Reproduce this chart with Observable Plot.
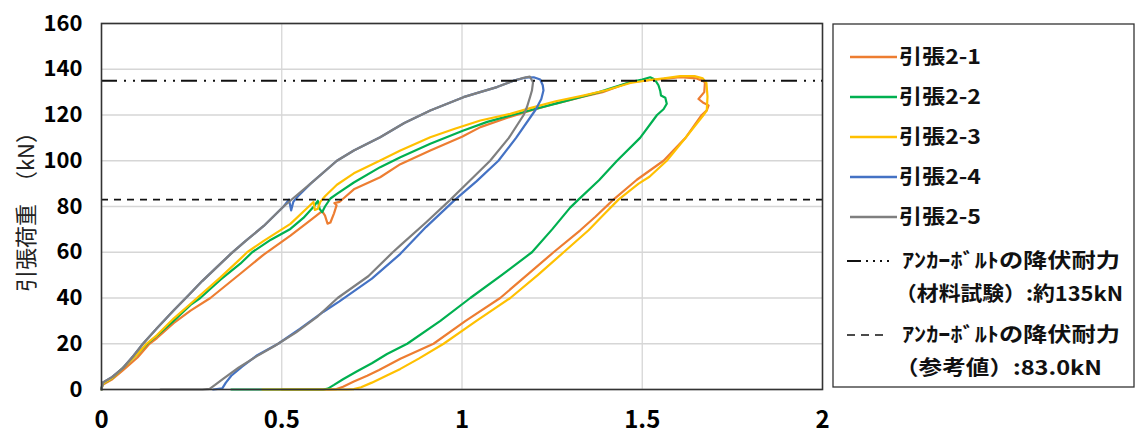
<!DOCTYPE html>
<html>
<head>
<meta charset="utf-8">
<script src="https://cdn.jsdelivr.net/npm/d3@7"></script>
<script src="https://cdn.jsdelivr.net/npm/@observablehq/plot@0.6"></script>
<style>
  html, body { margin: 0; padding: 0; background: #fff; }
  #chart { width: 1137px; height: 434px; }
</style>
</head>
<body>
<div id="chart"></div>
<script>
// ---- data ----
const seriesNames  = ["引張2-1", "引張2-2", "引張2-3", "引張2-4", "引張2-5"];
const seriesColors = ["#ED7D31", "#00B050", "#FFC000", "#4472C4", "#7F7F7F"];

const xTicks = [0, 0.5, 1, 1.5, 2];
const yTicks = [0, 20, 40, 60, 80, 100, 120, 140, 160];
const gridXTicks = [0.5, 1, 1.5];

const yieldValues = [135, 83];
const yieldLabels1 = ["ｱﾝｶｰﾎﾞﾙﾄの降伏耐力", "（材料試験）:約135kN"];
const yieldLabels2 = ["ｱﾝｶｰﾎﾞﾙﾄの降伏耐力", "（参考値）:83.0kN"];
const yLabel = "引張荷重　（kN）";

// 引張2-1 (orange)
const s1x = [0,0.003,0.03,0.06,0.1,0.133,0.154,0.2,0.247,0.302,0.385,0.45,0.524,0.58,0.612,0.62,0.627,0.635,0.645,0.652,0.646,0.66,0.671,0.7,0.773,0.829,0.912,1.0,1.051,1.12,1.189,1.26,1.336,1.39,1.467,1.52,1.559,1.605,1.651,1.674,1.672,1.656,1.668,1.684,1.679,
  1.665,1.62,1.559,1.485,1.42,1.37,1.328,1.254,1.18,1.106,1.01,0.921,0.829,0.77,0.737,0.7,0.67,0.652,0.63,0.5];
const s1y = [0,2,4.5,8.5,14,20,22.5,29,34.5,40,50.6,59,67.3,74,78,76,72.5,73,77,80.5,81.5,82,83.5,87.5,92.8,98.5,104.5,110.5,114.7,118.5,121.9,125,128,130,134.4,135.2,135.8,136.5,136,134.4,130,127,125.5,124.2,122,
  120,110,100,91.7,83,75.5,69.6,60,50,40,30,20,13.4,8.5,6,3.5,1.2,0.2,0,0];

// 引張2-2 (green)
const s2x = [0,0.003,0.03,0.06,0.1,0.127,0.154,0.2,0.247,0.274,0.33,0.385,0.418,0.47,0.524,0.56,0.589,0.6,0.605,0.612,0.62,0.635,0.653,0.7,0.773,0.829,0.912,1.004,1.07,1.14,1.2,1.26,1.32,1.38,1.43,1.47,1.5,1.522,1.535,1.545,1.55,1.552,1.564,1.568,1.559,1.541,
  1.494,1.43,1.38,1.323,1.3,1.25,1.194,1.11,1.023,0.94,0.848,0.792,0.75,0.709,0.67,0.645,0.628,0.615,0.36];
const s2y = [0,2.5,5,9.5,15.5,20,23.5,30,37,40,48,55,60,65.5,70.2,75,80,82.5,79,77.5,80,83.5,85.5,90.5,97.2,101.5,107.4,113.2,117,120,122.5,125,127.5,130,132.5,134.5,135.5,136.5,135.5,133,130.5,128.5,127.5,124.9,122.5,120,
  110,100,91.5,83,79.5,70,60,50,40,30,20,15.5,11.5,8,4.5,2,0.4,0,0];

// 引張2-3 (yellow)
const s3x = [0,0.003,0.03,0.061,0.1,0.125,0.154,0.2,0.247,0.265,0.33,0.385,0.404,0.45,0.524,0.575,0.588,0.592,0.6,0.607,0.62,0.653,0.7,0.773,0.829,0.912,0.98,1.051,1.134,1.189,1.26,1.336,1.4,1.467,1.52,1.56,1.605,1.645,1.668,1.678,1.681,1.679,
  1.67,1.62,1.568,1.52,1.49,1.434,1.39,1.351,1.282,1.21,1.134,1.04,0.949,0.88,0.829,0.79,0.75,0.72,0.7,0.68,0.446];
const s3y = [0,2.5,5,9.6,15.5,20,23.8,31,37.5,40,49,57.1,60,65,72.4,80,82,78.5,79,82,84.5,89.5,94.5,100.1,104.5,110.3,114,117.6,120.5,123,126,128.5,130.8,134,135.3,136,137,137,136,134,128,122,
  120,110,100,93,90,83,76,69.6,60,50,40,30,20,13.5,9,6,3,1,0.2,0,0];

// 引張2-4 (blue)
const s4x = [0,0.003,0.03,0.06,0.09,0.115,0.155,0.2,0.24,0.28,0.32,0.36,0.4,0.45,0.505,0.52,0.524,0.526,0.532,0.545,0.58,0.653,0.7,0.773,0.84,0.912,1.004,1.05,1.097,1.143,1.175,1.199,1.217,1.224,1.226,1.22,1.205,1.194,
  1.15,1.101,1.04,0.981,0.9,0.829,0.75,0.66,0.616,0.55,0.49,0.432,0.39,0.36,0.345,0.335,0.31];
const s4y = [0,3,5.5,9.5,15,20,27,34.5,41,47.5,53.5,59.5,65,71.5,80,83,80,78.3,82,84.5,90,100,104.5,110.3,116.5,122,127.8,130,132.2,135,136.3,136.5,135.5,133,130.7,127,122.5,120,
  110,100,91,83,71,59.3,48.5,38.5,34,26.5,20,15,10,6,3,0.5,0];

// 引張2-5 (gray)
const s5x = [0,0.003,0.03,0.06,0.09,0.115,0.155,0.2,0.24,0.28,0.32,0.36,0.4,0.45,0.505,0.53,0.58,0.653,0.7,0.773,0.84,0.912,1.004,1.05,1.097,1.143,1.171,1.188,1.197,1.194,1.189,1.18,1.171,
  1.13,1.078,1.02,0.968,0.9,0.829,0.808,0.74,0.655,0.6,0.54,0.48,0.43,0.38,0.34,0.315,0.3,0.28,0.164];
const s5y = [0,3,5.5,9.5,15,20,27,34.5,41,47.5,53.5,59.5,65,71.5,80,83.4,90,100,104.5,110.3,116.5,122,127.8,130,132.2,135,136.3,136.8,134.3,130.7,128,123.4,120,
  110,100,91,83,73,63,60,49.5,40,32,25,19,14.5,9.5,5,2,0.3,0,0];

// ---- build table ----
const seriesX = [s1x, s2x, s3x, s4x, s5x];
const seriesY = [s1y, s2y, s3y, s4y, s5y];
const rows = [];
seriesNames.forEach((name, i) => {
  seriesX[i].forEach((xv, j) => rows.push({series: name, x: xv, y: seriesY[i][j]}));
});

const FONT = "'Noto Sans CJK JP', 'Noto Sans', sans-serif";

const svg = Plot.plot({
  width: 1137,
  height: 434,
  marginLeft: 101,
  marginRight: 315,
  marginTop: 23,
  marginBottom: 45,
  style: {fontFamily: FONT, background: "#fff", color: "#000"},
  x: {domain: [0, 2], ticks: xTicks},
  y: {domain: [0, 160], ticks: yTicks},
  color: {domain: seriesNames, range: seriesColors},
  marks: [
    Plot.gridX(gridXTicks, {stroke: "#d6d6d6", strokeOpacity: 1, strokeWidth: 1.3}),
    Plot.gridY(yTicks, {stroke: "#d6d6d6", strokeOpacity: 1, strokeWidth: 1.3}),
    Plot.line(rows, {x: "x", y: "y", z: "series", stroke: "series", strokeWidth: 2.2, strokeLinejoin: "round"}),
    Plot.ruleY([yieldValues[0]], {stroke: "#111", strokeWidth: 2, strokeDasharray: "16,7,2,7,2,6"}),
    Plot.ruleY([yieldValues[1]], {stroke: "#111", strokeWidth: 1.6, strokeDasharray: "7,6"}),
    Plot.frame({stroke: "#333", strokeWidth: 1.6}),
    Plot.axisX(xTicks, {tickSize: 0, tickPadding: 21, fontSize: 24, fontWeight: "bold", label: null, tickFormat: d => String(d)}),
    Plot.axisY(yTicks, {tickSize: 0, tickPadding: 19, fontSize: 22, fontWeight: "bold", label: null}),
    Plot.text([yLabel], {frameAnchor: "left", dx: -75, rotate: -90, fontSize: 22, fill: "#222", textAnchor: "middle", lineAnchor: "middle"})
  ]
});

// ---- legend box (drawn into the same SVG) ----
const lg = d3.select(svg).append("g")
  .attr("font-family", FONT).attr("font-weight", "bold").attr("fill", "#111").attr("text-anchor", "start");
lg.append("rect").attr("x", 833).attr("y", 24).attr("width", 301).attr("height", 363)
  .attr("fill", "#fff").attr("stroke", "#333").attr("stroke-width", 1.3);
const rowY = [57, 97, 137, 177, 217];
seriesNames.forEach((name, i) => {
  lg.append("line").attr("x1", 850).attr("x2", 897).attr("y1", rowY[i]).attr("y2", rowY[i])
    .attr("stroke", seriesColors[i]).attr("stroke-width", 2.5);
  lg.append("text").attr("x", 899).attr("y", rowY[i]).attr("dy", "0.36em")
    .attr("font-size", 20).attr("textLength", 82).attr("lengthAdjust", "spacingAndGlyphs").text(name);
});
// yield line entries
lg.append("line").attr("x1", 847).attr("x2", 889).attr("y1", 261).attr("y2", 261)
  .attr("stroke", "#111").attr("stroke-width", 2).attr("stroke-dasharray", "14,5,2,5,2,5,2,5");
lg.append("text").attr("x", 902).attr("y", 261).attr("dy", "0.36em").attr("font-size", 20)
  .attr("textLength", 218).attr("lengthAdjust", "spacingAndGlyphs").text(yieldLabels1[0]);
lg.append("text").attr("x", 895).attr("y", 294).attr("dy", "0.36em").attr("font-size", 20)
  .attr("textLength", 228).attr("lengthAdjust", "spacingAndGlyphs").text(yieldLabels1[1]);
lg.append("line").attr("x1", 847).attr("x2", 889).attr("y1", 335).attr("y2", 335)
  .attr("stroke", "#111").attr("stroke-width", 1.6).attr("stroke-dasharray", "8,6");
lg.append("text").attr("x", 902).attr("y", 335).attr("dy", "0.36em").attr("font-size", 20)
  .attr("textLength", 218).attr("lengthAdjust", "spacingAndGlyphs").text(yieldLabels2[0]);
lg.append("text").attr("x", 895).attr("y", 368).attr("dy", "0.36em").attr("font-size", 20)
  .attr("textLength", 207).attr("lengthAdjust", "spacingAndGlyphs").text(yieldLabels2[1]);

document.getElementById("chart").appendChild(svg);
</script>
</body>
</html>
